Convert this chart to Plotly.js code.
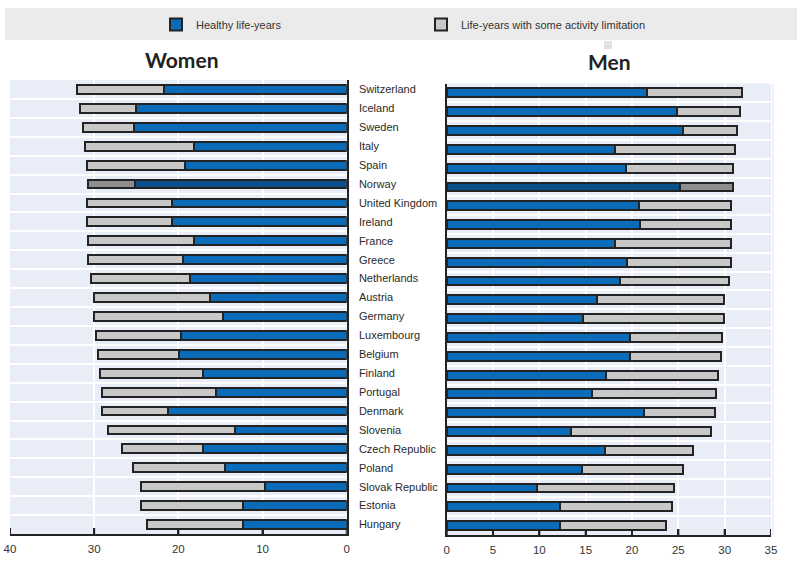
<!DOCTYPE html>
<html>
<head>
<meta charset="utf-8">
<script src="https://cdn.plot.ly/plotly-3.0.1.min.js"></script>
<style>html,body{margin:0;padding:0;background:#fff;}#chart{width:797px;height:561px;}</style>
</head>
<body>
<div id="chart"></div>
<script>
// ---- data ----
const countries = ["Switzerland","Iceland","Sweden","Italy","Spain","Norway","United Kingdom","Ireland","France","Greece","Netherlands","Austria","Germany","Luxembourg","Belgium","Finland","Portugal","Denmark","Slovenia","Czech Republic","Poland","Slovak Republic","Estonia","Hungary"];
const womenHealthy = [21.7,25.0,25.3,18.1,19.2,25.2,20.8,20.8,18.1,19.4,18.6,16.2,14.7,19.7,19.9,17.1,15.5,21.2,13.3,17.1,14.5,9.7,12.3,12.3];
const womenTotal   = [32.0,31.7,31.3,31.1,30.9,30.7,30.9,30.9,30.7,30.7,30.4,30.0,30.0,29.8,29.6,29.3,29.1,29.1,28.3,26.7,25.4,24.4,24.4,23.7];
const menHealthy   = [21.6,24.9,25.5,18.2,19.3,25.2,20.8,20.9,18.2,19.5,18.7,16.2,14.7,19.8,19.8,17.2,15.7,21.3,13.4,17.1,14.6,9.7,12.2,12.2];
const menTotal     = [31.9,31.6,31.3,31.1,30.9,30.9,30.7,30.7,30.7,30.7,30.5,29.9,29.9,29.7,29.6,29.3,29.1,29.0,28.5,26.6,25.5,24.5,24.3,23.7];
const womenTicks = [0,10,20,30,40];
const menTicks = [0,5,10,15,20,25,30,35];
const seriesNames = ["Healthy life-years","Life-years with some activity limitation"];
const panelTitles = ["Women","Men"];
const highlight = "Norway";

// ---- styles ----
const FONT = "Liberation Sans, Arial, sans-serif";
const blue = "#0a6cb8", blueDark = "#0a4e8a";
const grey = "#c8c8c8", greyDark = "#8e8e8e";
const INK = "#232323";
const outline = {color:INK, width:2};
const blueCols = countries.map(c => c === highlight ? blueDark : blue);
const greyCols = countries.map(c => c === highlight ? greyDark : grey);
const W = 797, H = 561;
const BW = 0.47;
const TICKLEN = 6;

function limitation(total, healthy){ return total.map((t,i) => +(t - healthy[i]).toFixed(2)); }

const traces = [
  {type:"bar", orientation:"h", y:countries, x:womenHealthy, name:seriesNames[0], xaxis:"x", yaxis:"y",
   width:BW, marker:{color:blueCols, line:outline}, legendgroup:"h", showlegend:true, hoverinfo:"x+y"},
  {type:"bar", orientation:"h", y:countries, x:limitation(womenTotal, womenHealthy), name:seriesNames[1], xaxis:"x", yaxis:"y",
   width:BW, marker:{color:greyCols, line:outline}, legendgroup:"l", showlegend:true, hoverinfo:"x+y"},
  {type:"bar", orientation:"h", y:countries, x:menHealthy, name:seriesNames[0], xaxis:"x2", yaxis:"y2",
   width:BW, marker:{color:blueCols, line:outline}, legendgroup:"h", showlegend:false, hoverinfo:"x+y"},
  {type:"bar", orientation:"h", y:countries, x:limitation(menTotal, menHealthy), name:seriesNames[1], xaxis:"x2", yaxis:"y2",
   width:BW, marker:{color:greyCols, line:outline}, legendgroup:"l", showlegend:false, hoverinfo:"x+y"}
];

const xCommon = {
  tickmode:"array", ticks:"inside", ticklen:TICKLEN, tickwidth:2, tickcolor:INK,
  showline:true, linewidth:2, linecolor:INK,
  showgrid:true, gridcolor:"#ffffff", gridwidth:2, zeroline:false,
  tickfont:{family:FONT, size:11.5, color:"#333"}, ticklabelstandoff:3, fixedrange:true
};
const yCommon = {
  type:"category", autorange:"reversed", showline:true, linewidth:2, linecolor:INK,
  ticks:"", tickson:"boundaries", showgrid:true, gridcolor:"#ffffff", gridwidth:2, zeroline:false, fixedrange:true
};

const yDom1 = [1-534/H, 1-80/H], yDom2 = [1-535/H, 1-83.5/H];
const tickLen1 = TICKLEN / ((yDom1[1]-yDom1[0])*H);
const tickLen2 = TICKLEN / ((yDom2[1]-yDom2[0])*H);
const tickShapes = womenTicks.map(v => ({type:"line", xref:"x", yref:"y domain", x0:v, x1:v, y0:0, y1:tickLen1, line:{color:INK, width:2}}))
  .concat(menTicks.map(v => ({type:"line", xref:"x2", yref:"y2 domain", x0:v, x1:v, y0:0, y1:tickLen2, line:{color:INK, width:2}})));

const layout = {
  width:W, height:H, margin:{l:0,r:0,t:0,b:0},
  paper_bgcolor:"#ffffff", plot_bgcolor:"#e9edf7",
  barmode:"stack",
  font:{family:FONT, color:"#333"},
  xaxis:Object.assign({}, xCommon, {domain:[10/W, 346.7/W], range:[40,0], tickvals:womenTicks, ticktext:womenTicks.map(String), anchor:"y"}),
  yaxis:Object.assign({}, yCommon, {domain:yDom1, side:"right", anchor:"x",
        tickfont:{family:FONT, size:11, color:"#2a2a2a"}, ticklabelstandoff:8}),
  xaxis2:Object.assign({}, xCommon, {domain:[446.7/W, 771/W], range:[0,35], tickvals:menTicks, ticktext:menTicks.map(String), anchor:"y2"}),
  yaxis2:Object.assign({}, yCommon, {domain:yDom2, side:"left", anchor:"x2", showticklabels:false}),
  showlegend:true,
  legend:{orientation:"h", x:156/W, xanchor:"left", y:1-10/H, yanchor:"top", bgcolor:"rgba(0,0,0,0)",
          traceorder:"normal", font:{family:FONT, size:11, color:"#333"}, entrywidth:220, entrywidthmode:"pixels"},
  shapes:[
    {type:"rect", xref:"paper", yref:"paper", x0:5/W, x1:1, y0:1-40/H, y1:1-8/H, fillcolor:"#ebebeb", line:{width:0}, layer:"below"},
    {type:"rect", xref:"paper", yref:"paper", x0:604/W, x1:612/W, y0:1-49/H, y1:1-41/H, fillcolor:"#e2e2e2", line:{width:0}, layer:"below"},
    {type:"line", xref:"paper", yref:"paper", x0:773/W, x1:773/W, y0:yDom2[0], y1:yDom2[1], line:{color:"#dfe4f2", width:1}}
  ].concat(tickShapes),
  annotations:[
    {text:"<b>"+panelTitles[0]+"</b>", xref:"paper", yref:"paper", x:182/W, y:1-59/H, xanchor:"center", yanchor:"middle", showarrow:false,
     font:{family:"Lato, Open Sans, sans-serif", size:21, color:"#222"}},
    {text:"<b>"+panelTitles[1]+"</b>", xref:"paper", yref:"paper", x:609/W, y:1-62/H, xanchor:"center", yanchor:"middle", showarrow:false,
     font:{family:"Lato, Open Sans, sans-serif", size:21, color:"#222"}}
  ]
};

Plotly.newPlot("chart", traces, layout, {displayModeBar:false, staticPlot:true});
</script>
</body>
</html>
